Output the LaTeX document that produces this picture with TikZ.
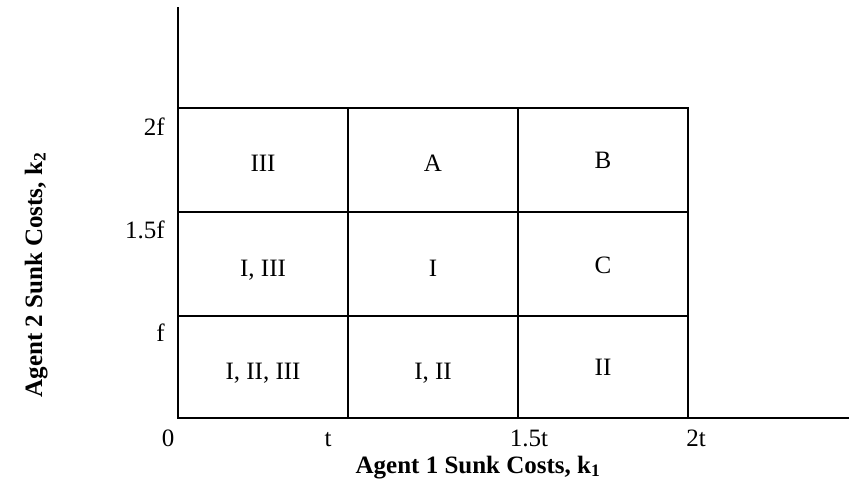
\documentclass[tikz,border=0pt]{standalone}
\usepackage{fontspec}
\setmainfont{Liberation Serif}
\begin{document}
\begin{tikzpicture}[x=1pt,y=-1pt,
  axisline/.style={line width=2pt},
  gridline/.style={line width=2pt},
  celltext/.style={font=\fontsize{25}{28}\selectfont, inner sep=0pt, anchor=base},
  ticktext/.style={font=\fontsize{25}{28}\selectfont, inner sep=0pt, anchor=base},
  axistitle/.style={font=\fontsize{25}{28}\selectfont\bfseries, inner sep=0pt, anchor=base}]
\useasboundingbox (0,0) rectangle (849,485);
% axes
\coordinate (ytop) at (178,7);
\coordinate (o) at (178,418);
\coordinate (xend) at (849,418);
\draw[axisline] (ytop) -- (o) -- (xend);
% grid
\coordinate (g00) at (178,108);
\coordinate (g33) at (688,418);
\draw[gridline] (g00) rectangle (g33);
\draw[gridline] (348,108) -- (348,418);
\draw[gridline] (518,108) -- (518,418);
\draw[gridline] (178,212) -- (688,212);
\draw[gridline] (178,316) -- (688,316);
% cell labels
\node[celltext] (c11) at (263,171) {III};
\node[celltext] (c12) at (433,171) {A};
\node[celltext] (c13) at (603,168) {B};
\node[celltext] (c21) at (263,276) {I, III};
\node[celltext] (c22) at (433,276) {I};
\node[celltext] (c23) at (603,273) {C};
\node[celltext] (c31) at (263,379) {I, II, III};
\node[celltext] (c32) at (433,379) {I, II};
\node[celltext] (c33) at (603,375) {II};
% y ticks
\node[ticktext, anchor=base east] (y2) at (165,135) {2f};
\node[ticktext, anchor=base east] (y15) at (165,238) {1.5f};
\node[ticktext, anchor=base east] (y1) at (165,341) {f};
% x ticks
\node[ticktext] (x0) at (168,446) {0};
\node[ticktext] (x1) at (328,446) {t};
\node[ticktext] (x15) at (529,446) {1.5t};
\node[ticktext] (x2) at (696,446) {2t};
% axis titles
\node[axistitle] (xt) at (478,473) {Agent 1 Sunk Costs, k\textsubscript{1}};
\node[axistitle, rotate=90] (yt) at (42,275) {Agent 2 Sunk Costs, k\textsubscript{2}};
\end{tikzpicture}
\end{document}
